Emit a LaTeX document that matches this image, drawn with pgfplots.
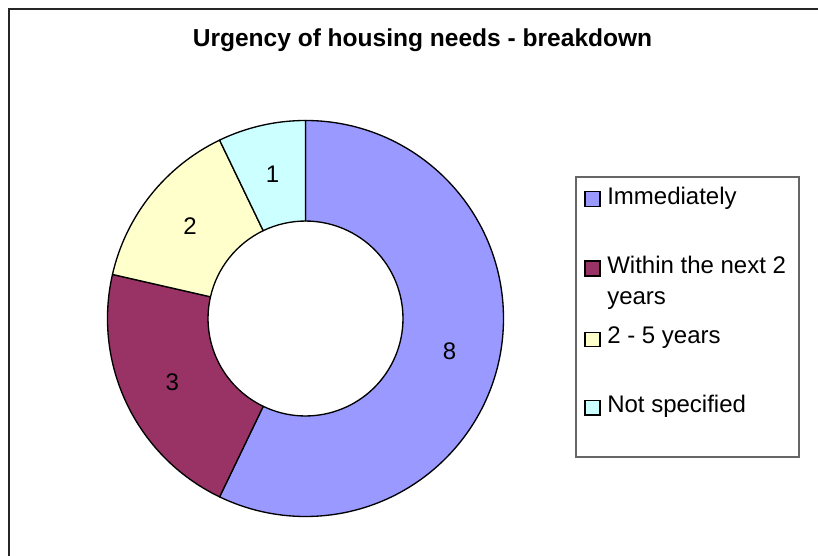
\documentclass[border=0pt]{standalone}
\usepackage{fontspec}
\setmainfont{Liberation Sans}
\usepackage{pgfplots}
\usepackage{pgfplotstable}
\pgfplotsset{compat=1.18}
\definecolor{cA}{HTML}{9999FF}
\definecolor{cB}{HTML}{993366}
\definecolor{cC}{HTML}{FFFFCC}
\definecolor{cD}{HTML}{CCFFFF}
\pgfplotstableread{
idx value
0 8
1 3
2 2
3 1
}\urgency
\newcommand\slice[3]{%
  \filldraw[fill=#3,draw=black,line width=1pt,line join=round]
    (axis cs:305.5,237.5) ++(#1:\Ro) arc[start angle=#1,end angle=#2,radius=\Ro]
    -- ++(#2+180:\Rd) arc[start angle=#2,end angle=#1,radius=\Ri] -- cycle;}
\newcommand\legsq[3]{%
  \filldraw[fill=#1,draw=black,line width=0.8pt] (axis cs:585,#2) rectangle (axis cs:600,#3);}
\begin{document}
\begin{tikzpicture}
\pgfplotstablegetelem{0}{value}\of\urgency \edef\vA{\pgfplotsretval}
\pgfplotstablegetelem{1}{value}\of\urgency \edef\vB{\pgfplotsretval}
\pgfplotstablegetelem{2}{value}\of\urgency \edef\vC{\pgfplotsretval}
\pgfplotstablegetelem{3}{value}\of\urgency \edef\vD{\pgfplotsretval}
\pgfmathsetmacro\tot{\vA+\vB+\vC+\vD}
\pgfmathsetmacro\aA{90}
\pgfmathsetmacro\aB{\aA-360*\vA/\tot}
\pgfmathsetmacro\aC{\aB-360*\vB/\tot}
\pgfmathsetmacro\aD{\aC-360*\vC/\tot}
\pgfmathsetmacro\aE{\aD-360*\vD/\tot}
\pgfmathsetmacro\mA{(\aA+\aB)/2}
\pgfmathsetmacro\mB{(\aB+\aC)/2}
\pgfmathsetmacro\mC{(\aC+\aD)/2}
\pgfmathsetmacro\mD{(\aD+\aE)/2}
\def\Ro{148.5pt}\def\Ri{73.1pt}\def\Rm{110.8pt}\def\Rd{75.4pt}
\useasboundingbox (0,0) rectangle (613.5pt,417pt);
\begin{axis}[at={(0,0)},anchor=south west,scale only axis,
  width=613.5pt,height=417pt,xmin=0,xmax=818,ymin=0,ymax=556,
  hide axis,clip=false]
\draw[black!85,line width=1.2pt] (axis cs:9,0) -- (axis cs:9,547) -- (axis cs:818,547);
\node[font=\bfseries\fontsize{18.4}{22}\selectfont] at (axis cs:422.5,516) {Urgency of housing needs - breakdown};
\slice{\aA}{\aB}{cA}
\slice{\aB}{\aC}{cB}
\slice{\aC}{\aD}{cC}
\slice{\aD}{\aE}{cD}
\begin{scope}[font=\fontsize{18}{22}\selectfont]
\path (axis cs:305.5,237.5) ++(\mA:\Rm) node {\vA};
\path (axis cs:305.5,237.5) ++(\mB:\Rm) node {\vB};
\path (axis cs:305.5,237.5) ++(\mC:\Rm) node {\vC};
\path (axis cs:305.5,237.5) ++(\mD:\Rm) node {\vD};
\draw[black!60,line width=0.8pt] (axis cs:576,99) rectangle (axis cs:799,379);
\legsq{cA}{349.5}{364.5}
\legsq{cB}{280}{295}
\legsq{cC}{209.5}{223.5}
\legsq{cD}{141}{155.5}
\node[anchor=base west,inner sep=0pt] at (axis cs:607,351) {Immediately};
\node[anchor=base west,inner sep=0pt] at (axis cs:607,282.7) {Within the next 2};
\node[anchor=base west,inner sep=0pt] at (axis cs:607,251) {years};
\node[anchor=base west,inner sep=0pt] at (axis cs:607,212.7) {2 - 5 years};
\node[anchor=base west,inner sep=0pt] at (axis cs:607,143.5) {Not specified};
\end{scope}
\end{axis}
\end{tikzpicture}
\end{document}
